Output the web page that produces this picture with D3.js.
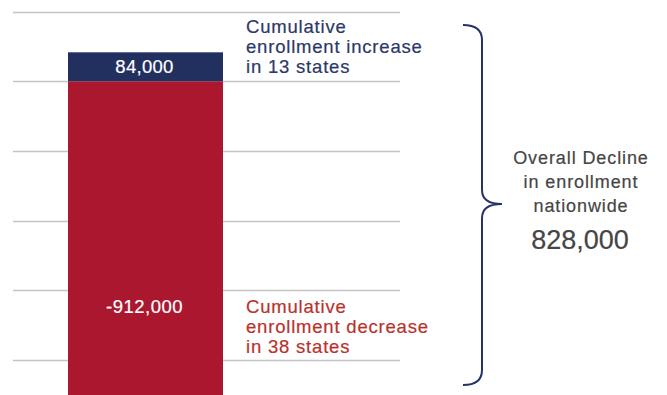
<!DOCTYPE html>
<html>
<head>
<meta charset="utf-8">
<script src="https://cdn.jsdelivr.net/npm/d3@7"></script>
<style>
	body { margin: 0; background: #fff; }
	svg { display: block; font-family: "Liberation Sans", Arial, Helvetica, sans-serif; }
	text { stroke-width: 0.2px; }
</style>
</head>
<body>
<div id="chart"></div>
<script>
// enrollment change, stacked diverging bar

const categories = ["Nationwide"];
const increase = [84000];
const decrease = [-912000];
const increaseStates = [13];
const decreaseStates = [38];
const gridTicks = [200000, 0, -200000, -400000, -600000, -800000];

const svgWidth = 667;
const svgHeight = 395;

const navy = "#21305f";
const red = "#aa172f";

const rows = categories.map((c, i) => ({
	category: c,
	increase: increase[i],
	decrease: decrease[i],
}));

const y = d3.scaleLinear().domain([-800000, 200000]).range([359.5, 12]);
const x = d3.scaleBand().domain(categories).range([68, 223]).padding(0);

const svg = d3
	.select("#chart")
	.append("svg")
	.attr("width", svgWidth)
	.attr("height", svgHeight)
	.attr("viewBox", `0 0 ${svgWidth} ${svgHeight}`);

// gridlines
svg
	.append("g")
	.selectAll("line")
	.data(gridTicks)
	.join("line")
	.attr("x1", 13)
	.attr("x2", 400)
	.attr("y1", (d) => Math.round(y(d)) + 0.5)
	.attr("y2", (d) => Math.round(y(d)) + 0.5)
	.attr("stroke", "#c4c4c4")
	.attr("stroke-width", 1.3);

const stack = d3
	.stack()
	.keys(["increase", "decrease"])
	.offset(d3.stackOffsetDiverging);
const series = stack(rows);
const color = d3.scaleOrdinal().domain(["increase", "decrease"]).range([navy, red]);

svg
	.append("g")
	.selectAll("g")
	.data(series)
	.join("g")
	.attr("fill", (d) => color(d.key))
	.selectAll("rect")
	.data((d) => d)
	.join("rect")
	.attr("x", (d) => x(d.data.category))
	.attr("width", x.bandwidth())
	.attr("y", (d) => y(Math.max(d[0], d[1])))
	.attr("height", (d) => Math.abs(y(d[0]) - y(d[1])));

// plain hyphen for negatives, like the original
const fmt = d3
	.formatLocale({ decimal: ".", thousands: ",", grouping: [3], currency: ["$", ""], minus: "-" })
	.format(",");
const cx = x(categories[0]) + x.bandwidth() / 2 - 1;

// value labels inside the bar
svg
	.append("text")
	.attr("x", cx)
	.attr("y", (y(0) + y(increase[0])) / 2 + 6.5)
	.attr("text-anchor", "middle")
	.attr("fill", "#fff")
	.attr("stroke", "#fff")
	.style("font-size", "18.5px")
	.style("letter-spacing", "0.3px")
	.text(fmt(increase[0]));

svg
	.append("text")
	.attr("x", cx)
	.attr("y", y(-600000) + 23)
	.attr("text-anchor", "middle")
	.attr("fill", "#fff")
	.attr("stroke", "#fff")
	.style("font-size", "18.5px")
	.style("letter-spacing", "0.5px")
	.text(fmt(decrease[0]));

// side annotations
const addLines = (lines, xPos, yPos, fill, size, spacing, gap, anchor) => {
	const t = svg
		.append("text")
		.attr("x", xPos)
		.attr("y", yPos)
		.attr("fill", fill)
		.attr("stroke", fill)
		.attr("text-anchor", anchor)
		.style("font-size", size)
		.style("letter-spacing", spacing);
	lines.forEach((line, i) => {
		t.append("tspan")
			.attr("x", xPos)
			.attr("dy", i === 0 ? 0 : gap)
			.text(line);
	});
	return t;
};

addLines(
	["Cumulative", "enrollment increase", `in ${increaseStates[0]} states`],
	246, y(increase[0]) - 19.6, "#2c3867", "18.5px", "0.8px", 20, "start"
);

addLines(
	["Cumulative", "enrollment decrease", `in ${decreaseStates[0]} states`],
	246, y(-600000) + 23, "#b8332c", "18.5px", "0.8px", 20, "start"
);

// brace spanning the net change
const bp = d3.path();
bp.moveTo(463, 25);
bp.quadraticCurveTo(482, 25, 482, 40);
bp.lineTo(482, 190);
bp.quadraticCurveTo(482, 204, 502, 204);
bp.quadraticCurveTo(482, 204, 482, 218);
bp.lineTo(482, 370);
bp.quadraticCurveTo(482, 385, 463, 385);

svg
	.append("path")
	.attr("d", bp.toString())
	.attr("fill", "none")
	.attr("stroke", "#26326a")
	.attr("stroke-width", 2);

addLines(
	["Overall Decline", "in enrollment", "nationwide"],
	581, 164, "#454545", "18px", "0.9px", 24, "middle"
);

svg
	.append("text")
	.attr("x", 580)
	.attr("y", 249)
	.attr("text-anchor", "middle")
	.attr("fill", "#454545")
	.attr("stroke", "#454545")
	.style("font-size", "27px")
	.text(fmt(Math.abs(increase[0] + decrease[0])));
</script>
</body>
</html>
